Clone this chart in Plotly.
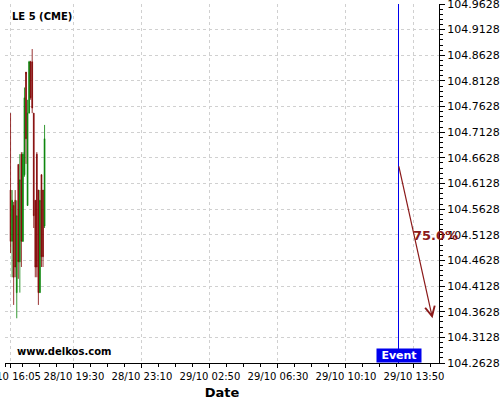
import plotly.graph_objects as go

# ---- data ----
times = ["2013-10-28 16:05", "2013-10-28 16:10", "2013-10-28 16:15", "2013-10-28 16:20",
         "2013-10-28 16:25", "2013-10-28 16:30", "2013-10-28 16:35", "2013-10-28 16:40",
         "2013-10-28 16:45", "2013-10-28 16:50", "2013-10-28 16:55", "2013-10-28 17:00",
         "2013-10-28 17:05", "2013-10-28 17:10", "2013-10-28 17:15", "2013-10-28 17:20",
         "2013-10-28 17:25", "2013-10-28 17:30", "2013-10-28 17:35", "2013-10-28 17:40",
         "2013-10-28 17:45", "2013-10-28 17:50", "2013-10-28 17:55"]
opens = [104.60, 104.50, 104.57, 104.58, 104.40, 104.65, 104.46, 104.67, 104.50, 104.63,
         104.83, 104.57, 104.75, 104.85, 104.85, 104.75, 104.58, 104.67, 104.60, 104.40,
         104.63, 104.60, 104.53]
highs = [104.750, 104.60, 104.577, 104.60, 104.58, 104.65, 104.67, 104.674, 104.674, 104.80,
         104.826, 104.776, 104.852, 104.852, 104.875, 104.75, 104.58, 104.674, 104.60, 104.60,
         104.626, 104.60, 104.727]
lows = [104.477, 104.43, 104.376, 104.43, 104.350, 104.427, 104.40, 104.45, 104.499, 104.626,
        104.651, 104.569, 104.75, 104.776, 104.75, 104.526, 104.43, 104.43, 104.376, 104.40,
        104.45, 104.45, 104.526]
closes = [104.50, 104.58, 104.43, 104.45, 104.55, 104.46, 104.62, 104.50, 104.67, 104.78,
          104.70, 104.75, 104.85, 104.78, 104.76, 104.55, 104.45, 104.45, 104.40, 104.58,
          104.47, 104.47, 104.70]

event_time = "2013-10-29 13:00"
arrow_start = ("2013-10-29 13:00", 104.649)
arrow_end = ("2013-10-29 14:50", 104.350)
pct_label = "75.0%"
pct_pos = ("2013-10-29 15:00", 104.512)

x_tickvals = ["2013-10-28 16:05", "2013-10-28 19:30", "2013-10-28 23:10", "2013-10-29 02:50",
              "2013-10-29 06:30", "2013-10-29 10:10", "2013-10-29 13:50"]
x_ticktext = ["28/10 16:05", "28/10 19:30", "28/10 23:10", "29/10 02:50",
              "29/10 06:30", "29/10 10:10", "29/10 13:50"]
x_range = ["2013-10-28 15:47", "2013-10-29 15:11"]

y_min, y_max = 104.2628, 104.9628
y_tickvals = [104.2628 + 0.05 * i for i in range(15)]
y_ticktext = ["%.4f" % v for v in y_tickvals]

fig = go.Figure()
fig.add_trace(go.Candlestick(
    x=times, open=opens, high=highs, low=lows, close=closes,
    increasing=dict(line=dict(color="#008000", width=0.8), fillcolor="#008000"),
    decreasing=dict(line=dict(color="#800000", width=0.8), fillcolor="#800000"),
    whiskerwidth=0, showlegend=False, hoverinfo="skip"))

fig.add_shape(type="line", x0=event_time, x1=event_time, xref="x", yref="paper",
              y0=0, y1=1, line=dict(color="#0000ee", width=1))

fig.add_annotation(x=arrow_end[0], y=arrow_end[1], ax=arrow_start[0], ay=arrow_start[1],
                   xref="x", yref="y", axref="x", ayref="y", text="",
                   showarrow=True, arrowhead=5, arrowsize=1.6, arrowwidth=1.2,
                   arrowcolor="#8b1a1a")
fig.add_annotation(x=pct_pos[0], y=pct_pos[1], xref="x", yref="y", text="<b>%s</b>" % pct_label,
                   showarrow=False, font=dict(size=13, color="#8b1a1a", family="DejaVu Sans"))

fig.add_annotation(x=event_time, y=0, xref="x", yref="paper", yanchor="bottom",
                   text="<b>Event</b>", showarrow=False, bgcolor="#0000ee",
                   font=dict(color="white", size=11, family="DejaVu Sans"),
                   borderpad=0, width=44, height=13)

fig.add_annotation(x=0.012, y=0.985, xref="paper", yref="paper", xanchor="left", yanchor="top",
                   text="<b>LE 5 (CME)</b>", showarrow=False,
                   font=dict(size=10, color="black", family="DejaVu Sans"))
fig.add_annotation(x=0.023, y=0.01, xref="paper", yref="paper", xanchor="left", yanchor="bottom",
                   text="<b>www.delkos.com</b>", showarrow=False,
                   font=dict(size=10, color="black", family="DejaVu Sans"))

grid_color = "#d0d0d0"
fig.update_layout(
    width=500, height=400,
    margin=dict(l=5, r=61, t=4, b=37, autoexpand=False),
    paper_bgcolor="white", plot_bgcolor="white",
    font=dict(family="DejaVu Sans", size=10, color="black"),
    xaxis=dict(type="date", range=x_range, tickvals=x_tickvals, ticktext=x_ticktext,
               tickangle=0, automargin=False, ticklabeloverflow="allow",
               rangeslider=dict(visible=False), showgrid=True, gridcolor=grid_color,
               griddash="3px,3px", gridwidth=1, showline=True, linecolor="black", linewidth=1,
               ticks="outside", ticklen=4, tickcolor="black", zeroline=False,
               tickfont=dict(size=10),
               minor=dict(ticks="outside", ticklen=3, tickcolor="black", showgrid=False,
                          tick0="2013-10-28 19:30", dtick=55 * 60 * 1000),
               title=dict(text="<b>Date</b>", font=dict(size=13), standoff=6)),
    yaxis=dict(side="right", range=[y_min, y_max], tickvals=y_tickvals, ticktext=y_ticktext,
               automargin=False, ticklabeloverflow="allow",
               showgrid=True, gridcolor=grid_color, griddash="3px,3px", gridwidth=1,
               showline=True, linecolor="black", linewidth=1, ticks="outside", ticklen=5,
               tickcolor="black", zeroline=False, tickfont=dict(size=11),
               minor=dict(ticks="outside", ticklen=3, tickcolor="black",
                          tickvals=[104.2628 + 0.01 * i for i in range(71)], showgrid=False)),
)

fig.write_html("out.html", config={"displayModeBar": False},
               post_script="document.body.style.margin='0px';")
